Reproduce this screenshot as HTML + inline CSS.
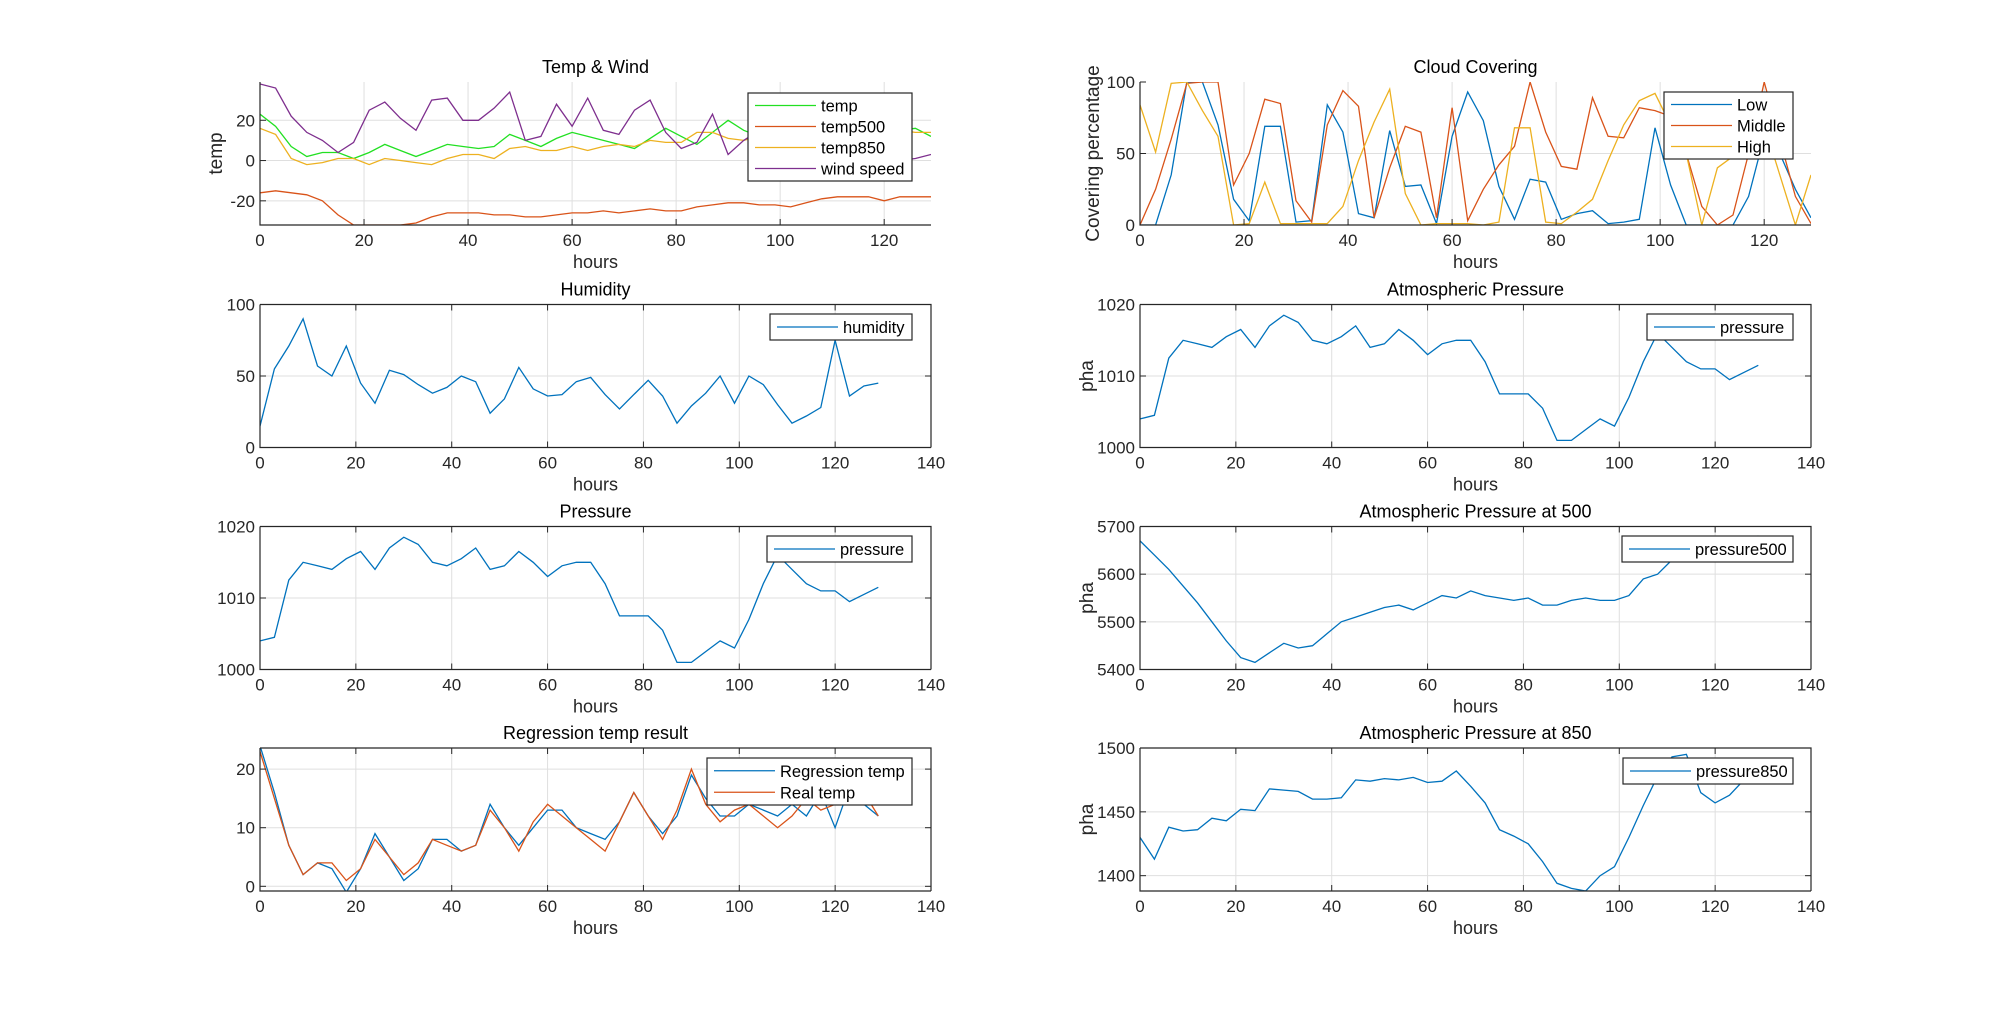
<!DOCTYPE html>
<html><head><meta charset="utf-8"><style>
html,body{margin:0;padding:0;background:#fff;}
svg{display:block;font-family:"Liberation Sans",Arial,sans-serif;}
</style></head><body>
<svg id="fig" width="2001" height="1013" viewBox="0 0 2001 1013"></svg>
<script>
const hours = [];
for (let h = 0; h <= 129; h += 3) hours.push(h);

const tempVals = [23,17,7,2,4,4,1,4,8,5,2,5,8,7,6,7,13,10,7,11,14,12,10,8,6,11,16,12,8,14,20,15,12,13,14,12,10,12,15,13,14,15,16,12];
const temp500Vals = [-16,-15,-16,-17,-20,-27,-32,-32,-32,-32,-31,-28,-26,-26,-26,-27,-27,-28,-28,-27,-26,-26,-25,-26,-25,-24,-25,-25,-23,-22,-21,-21,-22,-22,-23,-21,-19,-18,-18,-18,-20,-18,-18,-18];
const temp850Vals = [16,13,1,-2,-1,1,1,-2,1,0,-1,-2,1,3,3,1,6,7,5,5,7,5,7,8,7,10,9,9,14,14,11,10,12,13,14,15,15,16,15,16,15,15,14,14];
const windVals = [38,36,22,14,10,4,9,25,29,21,15,30,31,20,20,26,34,10,12,28,17,31,15,13,25,30,14,6,9,23,3,10,15,12,14,10,8,5,3,2,1,0,1,3];

const lowVals = [0,0,35,100,100,70,18,3,69,69,2,3,84,65,8,5,66,27,28,1,62,93,73,27,4,32,30,4,8,10,1,2,4,68,28,0,0,0,0,20,62,50,25,5];
const midVals = [0,25,60,99,100,100,28,50,88,85,17,2,70,94,83,5,40,69,65,5,82,3,25,42,55,100,65,41,39,89,62,61,82,80,76,50,13,0,7,50,100,60,20,1];
const highVals = [84,51,99,100,80,62,0,1,30,1,1,1,1,13,45,72,95,22,0,1,1,1,0,2,68,68,2,1,9,18,45,70,87,92,70,50,0,40,48,65,70,35,0,35];

const humidityVals = [15,55,71,90,57,50,71,45,31,54,51,44,38,42,50,46,24,34,56,41,36,37,46,49,37,27,37,47,36,17,29,38,50,31,50,44,30,17,22,28,75,36,43,45];
const pressureVals = [1004,1004.5,1012.5,1015,1014.5,1014,1015.5,1016.5,1014,1017,1018.5,1017.5,1015,1014.5,1015.5,1017,1014,1014.5,1016.5,1015,1013,1014.5,1015,1015,1012,1007.5,1007.5,1007.5,1005.5,1001,1001,1002.5,1004,1003,1007,1012,1016,1014,1012,1011,1011,1009.5,1010.5,1011.5];
const p500Vals = [5670,5640,5610,5575,5540,5500,5460,5425,5415,5435,5455,5445,5450,5475,5500,5510,5520,5530,5535,5525,5540,5555,5550,5565,5555,5550,5545,5550,5535,5535,5545,5550,5545,5545,5555,5590,5600,5630,5650,5660,5665,5670,5675,5680];
const p850Vals = [1430,1413,1438,1435,1436,1445,1443,1452,1451,1468,1467,1466,1460,1460,1461,1475,1474,1476,1475,1477,1473,1474,1482,1470,1457,1436,1431,1425,1411,1394,1390,1388,1400,1407,1430,1455,1478,1493,1495,1465,1457,1463,1475,1480];
const regVals = [24,16,7,2,4,3,-1,3,9,5,1,3,8,8,6,7,14,10,7,10,13,13,10,9,8,11,16,12,9,12,19,15,12,12,14,13,12,14,12,16,10,17,14,12];
const realVals = [23,15,7,2,4,4,1,3,8,5,2,4,8,7,6,7,13,10,6,11,14,12,10,8,6,11,16,12,8,13,20,14,11,13,14,12,10,12,15,13,14,15,16,12];

const xTicks129 = [0,20,40,60,80,100,120];
const xTicks140 = [0,20,40,60,80,100,120,140];

const BLUE='#0072BD', ORANGE='#D95319', YEL='#EDB120', PURP='#7E2F8E', GREEN='#22e022';
const NS='http://www.w3.org/2000/svg';
const svg=document.getElementById('fig');
function mk(tag, attrs, parent){const e=document.createElementNS(NS,tag);for(const k in attrs)e.setAttribute(k,attrs[k]);(parent||svg).appendChild(e);return e;}

const LX=260, RX=1140, W=671, H=143;
const TOPS=[82,304.5,526.5,748];

function plot(cfg){
  const g=mk('g',{});
  
  
  const x0=cfg.x, y0=cfg.y;
  const sx=v=>x0+(v-cfg.xlim[0])/(cfg.xlim[1]-cfg.xlim[0])*W;
  const sy=v=>y0+H-(v-cfg.ylim[0])/(cfg.ylim[1]-cfg.ylim[0])*H;
  cfg.xticks.forEach(t=>{ if(t>cfg.xlim[0]&&t<cfg.xlim[1]) mk('line',{x1:sx(t),x2:sx(t),y1:y0,y2:y0+H,stroke:'#dfdfdf','stroke-width':1},g);});
  cfg.yticks.forEach(t=>{ if(t>cfg.ylim[0]&&t<cfg.ylim[1]) mk('line',{x1:x0,x2:x0+W,y1:sy(t),y2:sy(t),stroke:'#dfdfdf','stroke-width':1},g);});
  const clip='c'+cfg.name;
  const cp=mk('clipPath',{id:clip},g); mk('rect',{x:x0,y:y0,width:W,height:H},cp);
  cfg.series.forEach(s=>{
    const pts=s.vals.map((v,i)=>sx(hours[i]).toFixed(1)+','+sy(v).toFixed(1)).join(' ');
    const pl=mk('polyline',{points:pts,fill:'none',stroke:s.color,'stroke-width':1.3,'clip-path':'url(#'+clip+')'},g);
    
    
  });
  mk('path',{d:`M${x0} ${y0}V${y0+H}H${x0+W}`,fill:'none',stroke:'#262626','stroke-width':1.2},g);
  if(cfg.box) mk('path',{d:`M${x0} ${y0}H${x0+W}V${y0+H}`,fill:'none',stroke:'#262626','stroke-width':1.2},g);
  cfg.xticks.forEach(t=>{const X=sx(t);
    mk('line',{x1:X,x2:X,y1:y0+H,y2:y0+H-6,stroke:'#262626'},g);
    if(cfg.box) mk('line',{x1:X,x2:X,y1:y0,y2:y0+6,stroke:'#262626'},g);
    const tx=mk('text',{x:X,y:y0+H+21,'text-anchor':'middle','font-size':17,fill:'#262626'},g);tx.textContent=t;
  });
  cfg.yticks.forEach(t=>{const Y=sy(t);
    mk('line',{x1:x0,x2:x0+6,y1:Y,y2:Y,stroke:'#262626'},g);
    if(cfg.box) mk('line',{x1:x0+W,x2:x0+W-6,y1:Y,y2:Y,stroke:'#262626'},g);
    const tx=mk('text',{x:x0-5,y:Y+6,'text-anchor':'end','font-size':17,fill:'#262626'},g);tx.textContent=t;
  });
  const ti=mk('text',{x:x0+W/2,y:y0-9,'text-anchor':'middle','font-size':18,fill:'#000'},g);ti.textContent=cfg.title;
  
  const xl=mk('text',{x:x0+W/2,y:y0+H+43,'text-anchor':'middle','font-size':18,fill:'#262626'},g);xl.textContent='hours';
  
  if(cfg.ylabel){const yl=mk('text',{x:0,y:0,'text-anchor':'middle','font-size':19,fill:'#262626',transform:`translate(${cfg.ylx},${y0+H/2}) rotate(-90)`},g);yl.textContent=cfg.ylabel;
    }
  const L=cfg.legend;
  const lg=mk('g',{},g);
  
  mk('rect',{x:L[0],y:L[1],width:L[2]-L[0],height:L[3]-L[1],fill:'#fff',stroke:'#262626','stroke-width':1.2},lg);
  const n=cfg.series.length, rowH=(L[3]-L[1]-4)/n;
  cfg.series.forEach((s,i)=>{const cy=L[1]+2+rowH*(i+0.5);
    const e=mk('g',{},lg);
    
    mk('line',{x1:L[0]+7,x2:L[0]+68,y1:cy,y2:cy,stroke:s.color,'stroke-width':1.3},e);
    const t=mk('text',{x:L[0]+73,y:cy+6,'font-size':16.5,fill:'#000'},e);t.textContent=s.label;});
}

plot({name:'temp-wind-chart',x:LX,y:TOPS[0],xlim:[0,129],ylim:[-32,39],xticks:xTicks129,yticks:[-20,0,20],title:'Temp & Wind',ylabel:'temp',ylx:222,box:false,
  series:[{label:'temp',vals:tempVals,color:GREEN},{label:'temp500',vals:temp500Vals,color:ORANGE},{label:'temp850',vals:temp850Vals,color:YEL},{label:'wind speed',vals:windVals,color:PURP}],
  legend:[748,93,912,181]});
plot({name:'cloud-covering-chart',x:RX,y:TOPS[0],xlim:[0,129],ylim:[0,100],xticks:xTicks129,yticks:[0,50,100],title:'Cloud Covering',ylabel:'Covering percentage',ylx:1099,box:false,
  series:[{label:'Low',vals:lowVals,color:BLUE},{label:'Middle',vals:midVals,color:ORANGE},{label:'High',vals:highVals,color:YEL}],
  legend:[1664,92,1793,159]});
plot({name:'humidity-chart',x:LX,y:TOPS[1],xlim:[0,140],ylim:[0,100],xticks:xTicks140,yticks:[0,50,100],title:'Humidity',box:true,
  series:[{label:'humidity',vals:humidityVals,color:BLUE}],legend:[770,314,912,340]});
plot({name:'atmospheric-pressure-chart',x:RX,y:TOPS[1],xlim:[0,140],ylim:[1000,1020],xticks:xTicks140,yticks:[1000,1010,1020],title:'Atmospheric Pressure',ylabel:'pha',ylx:1093,box:true,
  series:[{label:'pressure',vals:pressureVals,color:BLUE}],legend:[1647,314,1793,340]});
plot({name:'pressure-chart',x:LX,y:TOPS[2],xlim:[0,140],ylim:[1000,1020],xticks:xTicks140,yticks:[1000,1010,1020],title:'Pressure',box:true,
  series:[{label:'pressure',vals:pressureVals,color:BLUE}],legend:[767,536,912,562]});
plot({name:'pressure-500-chart',x:RX,y:TOPS[2],xlim:[0,140],ylim:[5400,5700],xticks:xTicks140,yticks:[5400,5500,5600,5700],title:'Atmospheric Pressure at 500',ylabel:'pha',ylx:1093,box:true,
  series:[{label:'pressure500',vals:p500Vals,color:BLUE}],legend:[1622,536,1793,562]});
plot({name:'regression-chart',x:LX,y:TOPS[3],xlim:[0,140],ylim:[-0.8,23.6],xticks:xTicks140,yticks:[0,10,20],title:'Regression temp result',box:true,
  series:[{label:'Regression temp',vals:regVals,color:BLUE},{label:'Real temp',vals:realVals,color:ORANGE}],legend:[707,758,912,805]});
plot({name:'pressure-850-chart',x:RX,y:TOPS[3],xlim:[0,140],ylim:[1388,1500],xticks:xTicks140,yticks:[1400,1450,1500],title:'Atmospheric Pressure at 850',ylabel:'pha',ylx:1093,box:true,
  series:[{label:'pressure850',vals:p850Vals,color:BLUE}],legend:[1623,758,1793,784]});
</script>
</body></html>
